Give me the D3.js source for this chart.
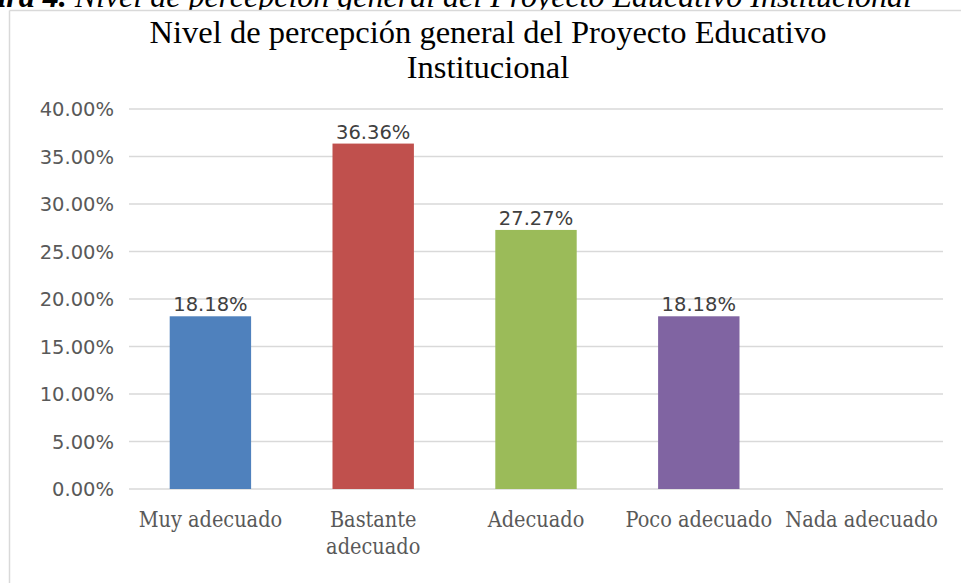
<!DOCTYPE html>
<html><head><meta charset="utf-8">
<script src="https://cdn.jsdelivr.net/npm/d3@7"></script>
<style>html,body{margin:0;padding:0;background:#fff;overflow:hidden}</style>
</head><body>
<script>
const categories = ["Muy adecuado", "Bastante adecuado", "Adecuado", "Poco adecuado", "Nada adecuado"];
const categoryLines = [["Muy adecuado"], ["Bastante", "adecuado"], ["Adecuado"], ["Poco adecuado"], ["Nada adecuado"]];
const values = [18.18, 36.36, 27.27, 18.18, 0];
const colors = ["#4F81BD", "#C0504D", "#9BBB59", "#8064A2", "#4BACC6"];
const yTicks = [0, 5, 10, 15, 20, 25, 30, 35, 40];
const titleLines = ["Nivel de percepción general del Proyecto Educativo", "Institucional"];

const W = 961, H = 583;
const svg = d3.select("body").append("svg").attr("width", W).attr("height", H);

// caption (cut at top, as in the source image)
const cap = svg.append("text").attr("x", 912).attr("y", 7).attr("text-anchor", "end")
  .attr("font-family", "Liberation Serif").attr("font-size", 32).attr("font-style", "italic").attr("fill", "#000");
cap.append("tspan").attr("font-weight", "bold").text("Figura 4. ");
cap.append("tspan").text("Nivel de percepción general del Proyecto Educativo Institucional");

// frame
svg.append("rect").attr("x", 0).attr("y", 10).attr("width", W).attr("height", H).attr("fill", "#fff");
svg.append("line").attr("x1", 9.5).attr("x2", W).attr("y1", 10.5).attr("y2", 10.5).attr("stroke", "#d9d9d9").attr("stroke-width", 1.5);
svg.append("line").attr("x1", 9.5).attr("x2", 9.5).attr("y1", 10.5).attr("y2", H).attr("stroke", "#d9d9d9").attr("stroke-width", 1.5);

// title
svg.append("g").selectAll("text").data(titleLines).join("text")
  .attr("x", 488).attr("y", (d, i) => 43 + i * 35).attr("text-anchor", "middle")
  .attr("font-family", "Liberation Serif").attr("font-size", 32.5).attr("fill", "#000").text(d => d);

const x = d3.scaleBand().domain(categories).range([129, 943]).paddingInner(0.5).paddingOuter(0.25);
const y = d3.scaleLinear().domain([0, 40]).range([489, 109]);

// gridlines
svg.append("g").selectAll("line").data(yTicks).join("line")
  .attr("x1", 129).attr("x2", 943).attr("y1", d => y(d)).attr("y2", d => y(d))
  .attr("stroke", "#d9d9d9").attr("stroke-width", 1.5);

// y axis labels
const yAxis = d3.axisLeft(y).tickValues(yTicks).tickSize(0).tickPadding(0).tickFormat(d => d.toFixed(2) + "%");
const ga = svg.append("g").attr("transform", "translate(114,0)").call(yAxis);
ga.select(".domain").remove();
ga.selectAll("text").attr("font-family", "DejaVu Sans").attr("font-size", 19.5).attr("fill", "#595959").attr("dy", "0.35em");

// bars
svg.append("g").selectAll("rect").data(values).join("rect")
  .attr("x", (d, i) => x(categories[i])).attr("width", x.bandwidth())
  .attr("y", d => y(d)).attr("height", d => y(0) - y(d)).attr("fill", (d, i) => colors[i]);

// data labels (zero value not labelled)
svg.append("g").selectAll("text").data(values.map((v, i) => ({v, c: categories[i]})).filter(d => d.v > 0)).join("text")
  .attr("x", d => x(d.c) + x.bandwidth() / 2)
  .attr("y", d => y(d.v) - 5).attr("text-anchor", "middle")
  .attr("font-family", "DejaVu Sans").attr("font-size", 19.5).attr("fill", "#404040")
  .text(d => d.v.toFixed(2) + "%");

// category labels
const cl = svg.append("g").selectAll("g").data(categories).join("g")
  .attr("transform", (d) => `translate(${x(d) + x.bandwidth() / 2},0)`);
cl.selectAll("text").data((d, i) => categoryLines[i]).join("text")
  .attr("x", 0).attr("y", (d, j) => 527 + j * 27).attr("text-anchor", "middle")
  .attr("font-family", "DejaVu Serif").attr("font-stretch", "condensed").style("font-stretch", "condensed")
  .attr("font-size", 21.5).attr("fill", "#595959")
  .text(d => d);
</script>
</body></html>
